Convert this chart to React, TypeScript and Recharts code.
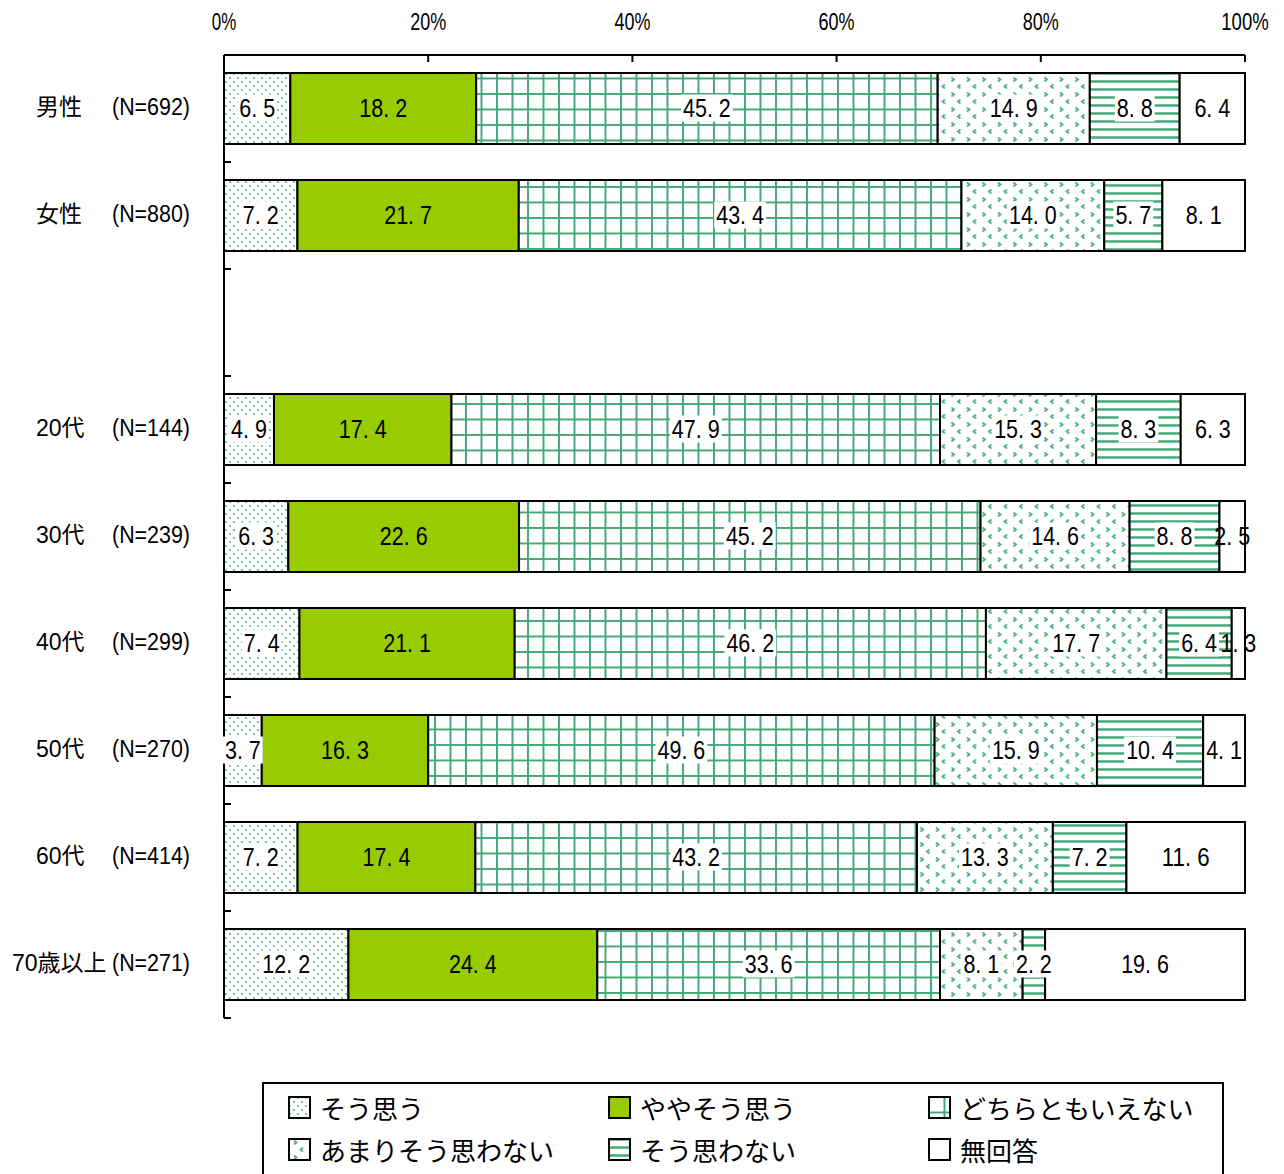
import React from "react";
import { Bar, BarChart, LabelList, Legend, XAxis, YAxis } from "recharts";

const categories = ["男性", "女性", "", "20代", "30代", "40代", "50代", "60代", "70歳以上"];
const counts = [692, 880, null, 144, 239, 299, 270, 414, 271];

const seriesNames = ["そう思う", "ややそう思う", "どちらともいえない", "あまりそう思わない", "そう思わない", "無回答"];

const souOmou = [6.5, 7.2, null, 4.9, 6.3, 7.4, 3.7, 7.2, 12.2];
const yaya = [18.2, 21.7, null, 17.4, 22.6, 21.1, 16.3, 17.4, 24.4];
const dochira = [45.2, 43.4, null, 47.9, 45.2, 46.2, 49.6, 43.2, 33.6];
const amari = [14.9, 14.0, null, 15.3, 14.6, 17.7, 15.9, 13.3, 8.1];
const omowanai = [8.8, 5.7, null, 8.3, 8.8, 6.4, 10.4, 7.2, 2.2];
const mukaitou = [6.4, 8.1, null, 6.3, 2.5, 1.3, 4.1, 11.6, 19.6];

const xTicks = [0, 0.2, 0.4, 0.6, 0.8, 1];

const seriesValues = [souOmou, yaya, dochira, amari, omowanai, mukaitou];
const fills = ["url(#pDots)", "#99cc00", "url(#pGrid)", "url(#pChev)", "url(#pStripe)", "#ffffff"];
const boxed = [true, false, true, true, true, false];

const data = categories.map((name, i) => {
  const row: Record<string, any> = { name, n: counts[i] };
  seriesValues.forEach((vals, k) => {
    row["s" + k] = vals[i];
  });
  return row;
});

const FONT = "'Liberation Sans', 'Noto Sans CJK JP', sans-serif";
const CJK = "'Noto Sans CJK JP', sans-serif";
const PLOT_LEFT = 224;
const PLOT_TOP = 55;
const BAND = (1018 - 55) / categories.length;
const GREEN = "#46a878";
const LABEL_SIZE = 25;
const SQUEEZE = 0.86;

const fmt = (v: number) => v.toFixed(1).replace(".", ". ");

const textWidth = (s: string, size: number) => {
  let w = 0;
  for (const c of s) w += /[0-9]/.test(c) ? 0.556 : 0.278;
  return w * size;
};

const TopTick = ({ x, payload }: any) => {
  const s = Math.round(payload.value * 100) + "%";
  return (
    <g>
      <text
        x={x}
        y={21}
        textAnchor="middle"
        dominantBaseline="central"
        fontSize={24}
        fontFamily={FONT}
        fill="#000"
        textLength={(s.length - 1) * 11.5 + 13}
        lengthAdjust="spacingAndGlyphs"
      >
        {s}
      </text>
      <line x1={x} x2={x} y1={PLOT_TOP} y2={PLOT_TOP + 7} stroke="#000" strokeWidth={2} />
    </g>
  );
};

const LeftTick = ({ y, payload, index }: any) => {
  const name = payload.value as string;
  const n = counts[index];
  const ty = y - 2;
  const np = "(N=" + n + ")";
  return (
    <g>
      <line x1={PLOT_LEFT} x2={PLOT_LEFT + 7} y1={y + BAND / 2} y2={y + BAND / 2} stroke="#000" strokeWidth={2} />
      {name && n != null ? (
        <g>
          <text
            x={name.length >= 4 ? 12 : 36}
            y={ty}
            dominantBaseline="central"
            fontSize={23}
            fontFamily={FONT}
            fill="#000"
          >
            {name}
          </text>
          <text
            x={190}
            y={ty}
            textAnchor="end"
            dominantBaseline="central"
            fontSize={23}
            fontFamily={FONT}
            fill="#000"
            textLength={78}
            lengthAdjust="spacingAndGlyphs"
          >
            {np}
          </text>
        </g>
      ) : null}
    </g>
  );
};

const makeLabel = (k: number) => (props: any) => {
  const { x, y, width, height, value } = props;
  if (value == null || value === 0) return null;
  const s = fmt(Number(value));
  const cx = x + width / 2;
  const cy = y + height / 2;
  const tw = textWidth(s, LABEL_SIZE) * SQUEEZE;
  const w = tw + 4;
  return (
    <g>
      {boxed[k] ? <rect x={cx - w / 2} y={cy - 14} width={w} height={27} fill="#fff" /> : null}
      <text
        x={cx}
        y={cy - 1}
        textAnchor="middle"
        dominantBaseline="central"
        fontSize={LABEL_SIZE}
        fontFamily={FONT}
        fill="#000"
        textLength={tw}
        lengthAdjust="spacingAndGlyphs"
      >
        {s}
      </text>
    </g>
  );
};

const LegendBox = () => (
  <div
    style={{
      boxSizing: "border-box",
      width: 962,
      height: 110,
      border: "2px solid #000",
      position: "relative",
      fontFamily: CJK,
      background: "#fff",
    }}
  >
    {seriesNames.map((name, i) => (
      <div
        key={name}
        style={{
          position: "absolute",
          left: 24 + (i % 3) * 320,
          top: 8 + Math.floor(i / 3) * 42,
          display: "flex",
          alignItems: "center",
          fontSize: 26,
          lineHeight: "32px",
          color: "#000",
        }}
      >
        <svg width={24} height={24} style={{ marginRight: 8 }}>
          <rect x={1} y={1} width={21} height={21} fill={fills[i]} stroke="#000" strokeWidth={2} />
        </svg>
        {name}
      </div>
    ))}
  </div>
);

export default function App() {
  return (
    <div style={{ position: "absolute", left: 0, top: 0, width: 1284, height: 1174, background: "#fff" }}>
      <BarChart
        width={1284}
        height={1174}
        data={data}
        layout="vertical"
        stackOffset="expand"
        barCategoryGap={18}
        margin={{ top: 0, right: 39, bottom: 156, left: 0 }}
      >
        <defs>
          <pattern id="pDots" width="8" height="8" patternUnits="userSpaceOnUse">
            <rect width="8" height="8" fill="#fff" />
            <circle cx="2" cy="2" r="1.1" fill="#5cb88a" />
            <circle cx="6" cy="6" r="1.1" fill="#5cb88a" />
          </pattern>
          <pattern id="pGrid" width="15.5" height="15.5" patternUnits="userSpaceOnUse">
            <rect width="15.5" height="15.5" fill="#fff" />
            <path d="M0 1H15.5 M1 0V15.5" stroke={GREEN} strokeWidth="2" />
          </pattern>
          <pattern id="pStripe" width="8" height="8" patternUnits="userSpaceOnUse">
            <rect width="8" height="8" fill="#fff" />
            <path d="M0 1.5H8" stroke={GREEN} strokeWidth="2.5" />
          </pattern>
          <pattern id="pChev" width="15.5" height="15" patternUnits="userSpaceOnUse">
            <rect width="15.5" height="15" fill="#fff" />
            <path
              d="M6 2.5L8.5 4.5L6 6.5 M15 9.5L12.5 11.5L15 13.5"
              stroke="#4aae7e"
              strokeWidth="1.8"
              fill="none"
            />
          </pattern>
        </defs>
        <XAxis
          type="number"
          orientation="top"
          domain={[0, 1]}
          ticks={xTicks}
          height={55}
          axisLine={{ stroke: "#000", strokeWidth: 2 }}
          tickLine={false}
          tick={<TopTick />}
          interval={0}
        />
        <YAxis
          type="category"
          dataKey="name"
          width={224}
          axisLine={{ stroke: "#000", strokeWidth: 2 }}
          tickLine={false}
          tick={<LeftTick />}
          interval={0}
        />
        {seriesNames.map((name, k) => (
          <Bar
            key={name}
            dataKey={"s" + k}
            name={name}
            stackId="a"
            fill={fills[k]}
            stroke="#000"
            strokeWidth={2}
            isAnimationActive={false}
          >
            <LabelList dataKey={"s" + k} content={makeLabel(k)} />
          </Bar>
        ))}
        <Legend
          layout="horizontal"
          verticalAlign="middle"
          align="center"
          content={<LegendBox />}
          wrapperStyle={{ position: "absolute", left: 262, top: 1082, width: 962, height: 110 }}
        />
      </BarChart>
    </div>
  );
}
